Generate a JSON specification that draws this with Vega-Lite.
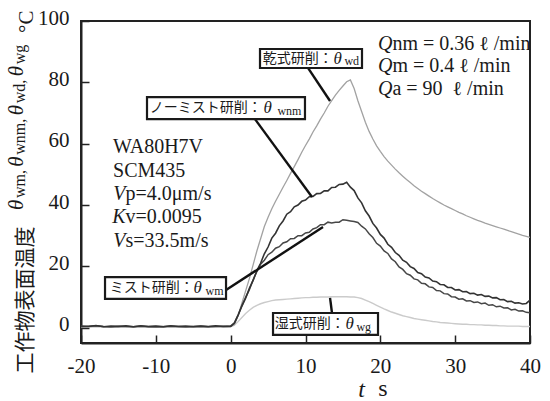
{
  "$schema": "https://vega.github.io/schema/vega-lite/v6.json",
  "width": 449,
  "height": 322,
  "autosize": {"type": "none"},
  "padding": {"left": 81, "top": 21, "right": 20, "bottom": 58},
  "background": "white",
  "config": {
    "view": {"stroke": "#222222", "strokeWidth": 2},
    "text": {"font": "Liberation Serif", "color": "#1a1a1a"}
  },
  "datasets": {
    "curves": [
      {"t": -20, "wd": 0.4, "wnm": 0.5, "wm": 0.3, "wg": 0.2},
      {"t": -19, "wd": 0.3, "wnm": 0.4, "wm": 0.5, "wg": 0.3},
      {"t": -18, "wd": 0.6, "wnm": 0.7, "wm": 0.6, "wg": 0.2},
      {"t": -17, "wd": 0.4, "wnm": 0.3, "wm": 0.4, "wg": 0.3},
      {"t": -16, "wd": 0.3, "wnm": 0.5, "wm": 0.3, "wg": 0.2},
      {"t": -15, "wd": 0.5, "wnm": 0.4, "wm": 0.5, "wg": 0.3},
      {"t": -14, "wd": 0.4, "wnm": 0.6, "wm": 0.4, "wg": 0.2},
      {"t": -13, "wd": 0.3, "wnm": 0.3, "wm": 0.3, "wg": 0.3},
      {"t": -12, "wd": 0.5, "wnm": 0.6, "wm": 0.5, "wg": 0.2},
      {"t": -11, "wd": 0.4, "wnm": 0.4, "wm": 0.3, "wg": 0.3},
      {"t": -10, "wd": 0.3, "wnm": 0.5, "wm": 0.4, "wg": 0.2},
      {"t": -9, "wd": 0.4, "wnm": 0.3, "wm": 0.3, "wg": 0.3},
      {"t": -8, "wd": 0.5, "wnm": 0.6, "wm": 0.5, "wg": 0.2},
      {"t": -7, "wd": 0.4, "wnm": 0.4, "wm": 0.4, "wg": 0.3},
      {"t": -6, "wd": 0.3, "wnm": 0.5, "wm": 0.3, "wg": 0.2},
      {"t": -5, "wd": 0.4, "wnm": 0.3, "wm": 0.4, "wg": 0.3},
      {"t": -4, "wd": 0.5, "wnm": 0.5, "wm": 0.5, "wg": 0.2},
      {"t": -3, "wd": 0.3, "wnm": 0.4, "wm": 0.3, "wg": 0.3},
      {"t": -2, "wd": 0.4, "wnm": 0.6, "wm": 0.4, "wg": 0.2},
      {"t": -1, "wd": 0.4, "wnm": 0.4, "wm": 0.5, "wg": 0.3},
      {"t": 0, "wd": 0.4, "wnm": 0.5, "wm": 0.4, "wg": 0.3},
      {"t": 0.5, "wd": 1.0, "wnm": 1.6, "wm": 1.4, "wg": 0.8},
      {"t": 1, "wd": 4.0, "wnm": 4.2, "wm": 4.0, "wg": 2.0},
      {"t": 1.5, "wd": 8.0, "wnm": 7.0, "wm": 7.2, "wg": 3.3},
      {"t": 2, "wd": 12.0, "wnm": 9.6, "wm": 9.9, "wg": 4.6},
      {"t": 2.5, "wd": 16.0, "wnm": 12.8, "wm": 12.4, "wg": 5.7},
      {"t": 3, "wd": 20.5, "wnm": 15.4, "wm": 15.6, "wg": 6.6},
      {"t": 3.5, "wd": 25.0, "wnm": 18.6, "wm": 18.3, "wg": 7.3},
      {"t": 4, "wd": 29.0, "wnm": 21.0, "wm": 20.7, "wg": 7.8},
      {"t": 4.5, "wd": 33.0, "wnm": 24.1, "wm": 22.0, "wg": 8.2},
      {"t": 5, "wd": 36.0, "wnm": 26.3, "wm": 23.8, "wg": 8.5},
      {"t": 5.5, "wd": 38.8, "wnm": 29.2, "wm": 24.6, "wg": 8.8},
      {"t": 6, "wd": 41.2, "wnm": 30.8, "wm": 25.9, "wg": 9.0},
      {"t": 6.5, "wd": 43.5, "wnm": 33.2, "wm": 26.4, "wg": 9.1},
      {"t": 7, "wd": 45.8, "wnm": 34.8, "wm": 27.6, "wg": 9.2},
      {"t": 7.5, "wd": 48.0, "wnm": 37.0, "wm": 28.0, "wg": 9.3},
      {"t": 8, "wd": 50.3, "wnm": 37.8, "wm": 29.0, "wg": 9.4},
      {"t": 8.5, "wd": 52.5, "wnm": 39.4, "wm": 29.1, "wg": 9.5},
      {"t": 9, "wd": 54.8, "wnm": 40.0, "wm": 30.0, "wg": 9.6},
      {"t": 9.5, "wd": 57.2, "wnm": 41.2, "wm": 30.0, "wg": 9.7},
      {"t": 10, "wd": 59.4, "wnm": 41.6, "wm": 30.9, "wg": 9.8},
      {"t": 10.5, "wd": 61.5, "wnm": 42.7, "wm": 31.1, "wg": 9.8},
      {"t": 11, "wd": 63.8, "wnm": 42.8, "wm": 32.2, "wg": 9.9},
      {"t": 11.5, "wd": 65.8, "wnm": 43.7, "wm": 32.6, "wg": 9.9},
      {"t": 12, "wd": 68.0, "wnm": 43.8, "wm": 33.6, "wg": 10.0},
      {"t": 12.5, "wd": 70.0, "wnm": 44.6, "wm": 33.6, "wg": 10.0},
      {"t": 13, "wd": 72.2, "wnm": 44.6, "wm": 34.4, "wg": 10.0},
      {"t": 13.5, "wd": 74.0, "wnm": 45.7, "wm": 34.1, "wg": 10.1},
      {"t": 14, "wd": 75.8, "wnm": 45.8, "wm": 34.4, "wg": 10.1},
      {"t": 14.5, "wd": 77.4, "wnm": 46.7, "wm": 34.4, "wg": 10.1},
      {"t": 15, "wd": 78.8, "wnm": 46.8, "wm": 35.2, "wg": 10.1},
      {"t": 15.5, "wd": 80.2, "wnm": 47.4, "wm": 35.0, "wg": 10.1},
      {"t": 16, "wd": 80.8, "wnm": 45.8, "wm": 34.8, "wg": 10.0},
      {"t": 16.5, "wd": 78.0, "wnm": 44.7, "wm": 34.6, "wg": 10.0},
      {"t": 17, "wd": 74.0, "wnm": 42.3, "wm": 34.3, "wg": 9.8},
      {"t": 17.5, "wd": 70.5, "wnm": 40.7, "wm": 33.1, "wg": 9.5},
      {"t": 18, "wd": 67.0, "wnm": 38.1, "wm": 32.2, "wg": 9.0},
      {"t": 18.5, "wd": 64.0, "wnm": 36.4, "wm": 30.6, "wg": 8.5},
      {"t": 19, "wd": 61.5, "wnm": 34.0, "wm": 29.4, "wg": 7.9},
      {"t": 19.5, "wd": 59.3, "wnm": 32.5, "wm": 27.5, "wg": 7.3},
      {"t": 20, "wd": 57.5, "wnm": 30.4, "wm": 26.6, "wg": 6.7},
      {"t": 20.5, "wd": 55.8, "wnm": 29.2, "wm": 25.0, "wg": 6.1},
      {"t": 21, "wd": 54.3, "wnm": 27.2, "wm": 24.2, "wg": 5.6},
      {"t": 21.5, "wd": 53.0, "wnm": 26.2, "wm": 22.4, "wg": 5.1},
      {"t": 22, "wd": 51.7, "wnm": 24.5, "wm": 21.5, "wg": 4.7},
      {"t": 22.5, "wd": 50.5, "wnm": 23.6, "wm": 19.8, "wg": 4.3},
      {"t": 23, "wd": 49.4, "wnm": 22.0, "wm": 19.0, "wg": 3.9},
      {"t": 23.5, "wd": 48.3, "wnm": 21.3, "wm": 17.6, "wg": 3.6},
      {"t": 24, "wd": 47.3, "wnm": 19.9, "wm": 17.1, "wg": 3.3},
      {"t": 24.5, "wd": 46.3, "wnm": 19.3, "wm": 15.9, "wg": 3.0},
      {"t": 25, "wd": 45.4, "wnm": 18.0, "wm": 15.6, "wg": 2.8},
      {"t": 25.5, "wd": 44.5, "wnm": 17.6, "wm": 14.5, "wg": 2.6},
      {"t": 26, "wd": 43.7, "wnm": 16.5, "wm": 14.3, "wg": 2.4},
      {"t": 26.5, "wd": 42.9, "wnm": 16.2, "wm": 13.3, "wg": 2.2},
      {"t": 27, "wd": 42.1, "wnm": 15.2, "wm": 13.1, "wg": 2.0},
      {"t": 27.5, "wd": 41.4, "wnm": 15.0, "wm": 12.1, "wg": 1.9},
      {"t": 28, "wd": 40.7, "wnm": 14.1, "wm": 12.0, "wg": 1.7},
      {"t": 28.5, "wd": 40.0, "wnm": 14.0, "wm": 11.1, "wg": 1.6},
      {"t": 29, "wd": 39.4, "wnm": 13.1, "wm": 11.0, "wg": 1.5},
      {"t": 29.5, "wd": 38.8, "wnm": 13.1, "wm": 10.1, "wg": 1.4},
      {"t": 30, "wd": 38.2, "wnm": 12.3, "wm": 10.0, "wg": 1.3},
      {"t": 30.5, "wd": 37.6, "wnm": 12.4, "wm": 9.3, "wg": 1.2},
      {"t": 31, "wd": 37.1, "wnm": 11.7, "wm": 9.4, "wg": 1.1},
      {"t": 31.5, "wd": 36.5, "wnm": 11.8, "wm": 8.7, "wg": 1.1},
      {"t": 32, "wd": 36.0, "wnm": 11.1, "wm": 8.8, "wg": 1.0},
      {"t": 32.5, "wd": 35.5, "wnm": 11.2, "wm": 8.2, "wg": 1.0},
      {"t": 33, "wd": 35.0, "wnm": 10.6, "wm": 8.4, "wg": 0.9},
      {"t": 33.5, "wd": 34.6, "wnm": 10.8, "wm": 7.8, "wg": 0.9},
      {"t": 34, "wd": 34.1, "wnm": 10.2, "wm": 8.0, "wg": 0.8},
      {"t": 34.5, "wd": 33.7, "wnm": 10.3, "wm": 7.3, "wg": 0.8},
      {"t": 35, "wd": 33.3, "wnm": 9.7, "wm": 7.5, "wg": 0.7},
      {"t": 35.5, "wd": 32.9, "wnm": 9.8, "wm": 6.8, "wg": 0.7},
      {"t": 36, "wd": 32.5, "wnm": 9.1, "wm": 7.0, "wg": 0.6},
      {"t": 36.5, "wd": 32.1, "wnm": 9.2, "wm": 6.4, "wg": 0.6},
      {"t": 37, "wd": 31.7, "wnm": 8.5, "wm": 6.5, "wg": 0.5},
      {"t": 37.5, "wd": 31.3, "wnm": 8.6, "wm": 5.8, "wg": 0.5},
      {"t": 38, "wd": 30.9, "wnm": 8.0, "wm": 6.0, "wg": 0.5},
      {"t": 38.5, "wd": 30.5, "wnm": 8.1, "wm": 5.4, "wg": 0.5},
      {"t": 39, "wd": 30.1, "wnm": 7.7, "wm": 5.5, "wg": 0.4},
      {"t": 39.5, "wd": 29.8, "wnm": 7.9, "wm": 5.0, "wg": 0.4},
      {"t": 40, "wd": 29.4, "wnm": 9.0, "wm": 4.9, "wg": 0.4}
    ],
    "leaders": [
      {"t": 10.33, "v": 84.7, "t2": 13.28, "v2": 73.9},
      {"t": 3.25, "v": 68.0, "t2": 10.87, "v2": 42.6},
      {"t": -0.62, "v": 12.3, "t2": 12.34, "v2": 32.8},
      {"t": 13.54, "v": 4.8, "t2": 13.28, "v2": 9.7}
    ],
    "boxes": [
      {"t": 3.92, "v": 90.87, "t2": 17.55, "v2": 84.68},
      {"t": -11.18, "v": 75.2, "t2": 9.93, "v2": 68.0},
      {"t": -16.79, "v": 16.5, "t2": -0.62, "v2": 9.36},
      {"t": 5.66, "v": 4.79, "t2": 19.69, "v2": -2.38}
    ],
    "texts": [
      {"kind": "jp", "t": 4.3, "v": 87.77, "text": "乾式研削："},
      {"kind": "jp", "t": -10.8, "v": 71.64, "text": "ノーミスト研削："},
      {"kind": "jp", "t": -16.15, "v": 12.94, "text": "ミスト研削："},
      {"kind": "jp", "t": 5.9, "v": 1.21, "text": "湿式研削："},
      {"kind": "th", "t": 13.75, "v": 87.77, "text": "θ"},
      {"kind": "th", "t": 4.4, "v": 71.64, "text": "θ"},
      {"kind": "th", "t": -4.95, "v": 12.94, "text": "θ"},
      {"kind": "th", "t": 15.35, "v": 1.21, "text": "θ"},
      {"kind": "sub", "t": 15.2, "v": 86.8, "text": "wd"},
      {"kind": "sub", "t": 6.25, "v": 70.67, "text": "wnm"},
      {"kind": "sub", "t": -3.35, "v": 11.97, "text": "wm"},
      {"kind": "sub", "t": 16.8, "v": 0.24, "text": "wg"},
      {"kind": "info", "t": -15.72, "v": 56.96, "text": "WA80H7V"},
      {"kind": "info", "t": -15.72, "v": 49.14, "text": "SCM435"},
      {"kind": "infoI", "t": -14.05, "v": 41.64, "text": "V"},
      {"kind": "info", "t": -14.05, "v": 41.64, "text": "p=4.0μm/s"},
      {"kind": "infoI", "t": -14.05, "v": 34.14, "text": "K"},
      {"kind": "info", "t": -14.05, "v": 34.14, "text": "v=0.0095"},
      {"kind": "infoI", "t": -14.05, "v": 26.31, "text": "V"},
      {"kind": "info", "t": -14.05, "v": 26.31, "text": "s=33.5m/s"},
      {"kind": "infoI", "t": 21.61, "v": 90.54, "text": "Q"},
      {"kind": "info", "t": 21.61, "v": 90.54, "text": "nm = 0.36 ℓ /min"},
      {"kind": "infoI", "t": 21.61, "v": 83.37, "text": "Q"},
      {"kind": "info", "t": 21.61, "v": 83.37, "text": "m = 0.4  ℓ /min"},
      {"kind": "infoI", "t": 21.61, "v": 75.87, "text": "Q"},
      {"kind": "info", "t": 21.61, "v": 75.87, "text": "a = 90\u00a0 ℓ /min"},
      {"kind": "yth", "t": -27.75, "v": 38.38, "text": "θ"},
      {"kind": "yth", "t": -27.75, "v": 52.5, "text": "θ"},
      {"kind": "yth", "t": -27.75, "v": 69.3, "text": "θ"},
      {"kind": "yth", "t": -27.75, "v": 82.0, "text": "θ"},
      {"kind": "ysub", "t": -27.45, "v": 42.3, "text": "wm,"},
      {"kind": "ysub", "t": -27.45, "v": 56.4, "text": "wnm,"},
      {"kind": "ysub", "t": -27.45, "v": 73.2, "text": "wd,"},
      {"kind": "ysub", "t": -27.45, "v": 85.9, "text": "wg"},
      {"kind": "ydeg", "t": -26.41, "v": 96.09, "text": "°C"},
      {"kind": "xs", "t": 20.36, "v": -22.3, "text": "s"}
    ]
  },
  "encoding": {
    "x": {
      "field": "t",
      "type": "quantitative",
      "scale": {"domain": [-20, 40], "nice": false, "zero": false},
      "axis": {
        "values": [-20, -10, 0, 10, 20, 30, 40],
        "labelExpr": "'' + datum.value",
        "grid": false,
        "tickSize": -8,
        "tickWidth": 1.5,
        "tickColor": "#222222",
        "domainColor": "#222222",
        "domainWidth": 2,
        "labelFont": "Liberation Serif",
        "labelFontSize": 21,
        "labelColor": "#1a1a1a",
        "labelPadding": 20,
        "labelFlush": false,
        "title": "t",
        "titleFont": "Liberation Serif",
        "titleFontStyle": "italic",
        "titleFontWeight": "normal",
        "titleFontSize": 24,
        "titleColor": "#1a1a1a",
        "titleX": 280,
        "titleY": 53,
        "titleAlign": "center",
        "titleBaseline": "alphabetic"
      }
    },
    "y": {
      "field": "v",
      "type": "quantitative",
      "scale": {"domain": [-5, 100], "nice": false, "zero": false},
      "axis": {
        "values": [0, 20, 40, 60, 80, 100],
        "grid": false,
        "tickSize": -8,
        "tickWidth": 1.5,
        "tickColor": "#222222",
        "domainColor": "#222222",
        "domainWidth": 2,
        "labelFont": "Liberation Serif",
        "labelFontSize": 21,
        "labelColor": "#1a1a1a",
        "labelPadding": 20,
        "labelOffset": -3,
        "labelFlush": false,
        "title": "工作物表面温度",
        "titleFont": "Noto Sans CJK JP",
        "titleFontWeight": "normal",
        "titleFontSize": 21,
        "titleColor": "#1a1a1a",
        "titleAngle": 270,
        "titleX": -50,
        "titleY": 352,
        "titleAlign": "left",
        "titleBaseline": "alphabetic"
      }
    }
  },
  "layer": [
    {
      "data": {"name": "curves"},
      "transform": [{"fold": ["wg"], "as": ["series", "v"]}],
      "mark": {"type": "line", "color": "#cbcbcb", "strokeWidth": 1.4, "clip": true}
    },
    {
      "data": {"name": "curves"},
      "transform": [{"fold": ["wd"], "as": ["series", "v"]}],
      "mark": {"type": "line", "color": "#a2a2a2", "strokeWidth": 1.3, "clip": true}
    },
    {
      "data": {"name": "curves"},
      "transform": [{"fold": ["wm"], "as": ["series", "v"]}],
      "mark": {"type": "line", "color": "#474747", "strokeWidth": 1.5, "clip": true}
    },
    {
      "data": {"name": "curves"},
      "transform": [{"fold": ["wnm"], "as": ["series", "v"]}],
      "mark": {"type": "line", "color": "#333333", "strokeWidth": 1.6, "clip": true}
    },
    {
      "data": {"name": "leaders"},
      "mark": {"type": "rule", "color": "#111111", "strokeWidth": 2.4},
      "encoding": {"x2": {"field": "t2"}, "y2": {"field": "v2"}}
    },
    {
      "data": {"name": "boxes"},
      "mark": {"type": "rect", "fill": "white", "stroke": "#1a1a1a", "strokeWidth": 2.2},
      "encoding": {"x2": {"field": "t2"}, "y2": {"field": "v2"}}
    },
    {
      "data": {"name": "texts"},
      "transform": [{"filter": {"field": "kind", "equal": "jp"}}],
      "mark": {"type": "text", "font": "Noto Sans CJK JP", "fontSize": 14, "align": "left", "baseline": "middle"},
      "encoding": {"text": {"field": "text"}}
    },
    {
      "data": {"name": "texts"},
      "transform": [{"filter": {"field": "kind", "equal": "th"}}],
      "mark": {"type": "text", "fontSize": 17, "fontStyle": "italic", "align": "left", "baseline": "middle"},
      "encoding": {"text": {"field": "text"}}
    },
    {
      "data": {"name": "texts"},
      "transform": [{"filter": {"field": "kind", "equal": "sub"}}],
      "mark": {"type": "text", "fontSize": 12, "align": "left", "baseline": "middle"},
      "encoding": {"text": {"field": "text"}}
    },
    {
      "data": {"name": "texts"},
      "transform": [{"filter": {"field": "kind", "equal": "info"}}],
      "mark": {"type": "text", "fontSize": 20, "align": "left", "baseline": "alphabetic"},
      "encoding": {"text": {"field": "text"}}
    },
    {
      "data": {"name": "texts"},
      "transform": [{"filter": {"field": "kind", "equal": "infoI"}}],
      "mark": {"type": "text", "fontSize": 20, "fontStyle": "italic", "align": "right", "baseline": "alphabetic"},
      "encoding": {"text": {"field": "text"}}
    },
    {
      "data": {"name": "texts"},
      "transform": [{"filter": {"field": "kind", "equal": "yth"}}],
      "mark": {"type": "text", "fontSize": 21, "fontStyle": "italic", "angle": 270, "align": "left", "baseline": "alphabetic"},
      "encoding": {"text": {"field": "text"}}
    },
    {
      "data": {"name": "texts"},
      "transform": [{"filter": {"field": "kind", "equal": "ysub"}}],
      "mark": {"type": "text", "fontSize": 16, "angle": 270, "align": "left", "baseline": "alphabetic"},
      "encoding": {"text": {"field": "text"}}
    },
    {
      "data": {"name": "texts"},
      "transform": [{"filter": {"field": "kind", "equal": "ydeg"}}],
      "mark": {"type": "text", "fontSize": 21, "angle": 270, "align": "left", "baseline": "alphabetic"},
      "encoding": {"text": {"field": "text"}}
    },
    {
      "data": {"name": "texts"},
      "transform": [{"filter": {"field": "kind", "equal": "xs"}}],
      "mark": {"type": "text", "fontSize": 24, "align": "center", "baseline": "alphabetic"},
      "encoding": {"text": {"field": "text"}}
    }
  ]
}
